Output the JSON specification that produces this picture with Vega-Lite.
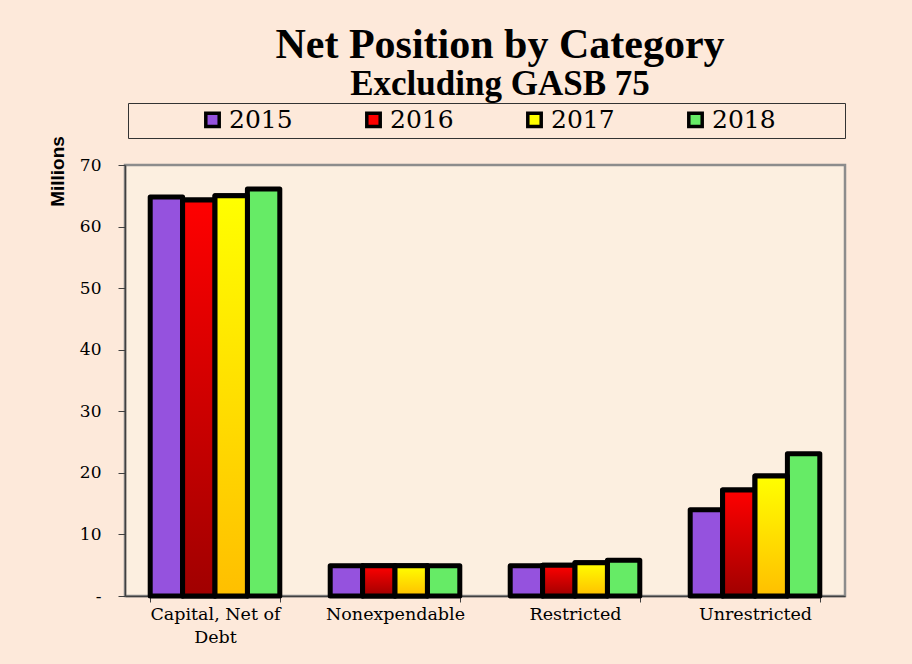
{
  "$schema": "https://vega.github.io/schema/vega-lite/v6.json",
  "width": 720,
  "height": 431,
  "autosize": {"type": "none"},
  "padding": {"left": 125, "top": 165, "right": 67, "bottom": 68},
  "background": "#fde9da",
  "title": {
    "text": "Net Position by Category",
    "subtitle": "Excluding GASB 75",
    "font": "Liberation Serif",
    "fontSize": 42,
    "fontWeight": "bold",
    "color": "#000000",
    "subtitleFont": "Liberation Serif",
    "subtitleFontSize": 35,
    "subtitleFontWeight": "bold",
    "subtitleColor": "#000000",
    "subtitlePadding": 0,
    "anchor": "middle",
    "frame": "group",
    "dx": 15,
    "offset": 0
  },
  "data": {
    "values": [
      {"category": "Capital, Net of Debt", "year": "2015", "value": 64.8},
      {"category": "Capital, Net of Debt", "year": "2016", "value": 64.3},
      {"category": "Capital, Net of Debt", "year": "2017", "value": 65.0},
      {"category": "Capital, Net of Debt", "year": "2018", "value": 66.1},
      {"category": "Nonexpendable", "year": "2015", "value": 4.9},
      {"category": "Nonexpendable", "year": "2016", "value": 4.9},
      {"category": "Nonexpendable", "year": "2017", "value": 4.9},
      {"category": "Nonexpendable", "year": "2018", "value": 4.9},
      {"category": "Restricted", "year": "2015", "value": 4.9},
      {"category": "Restricted", "year": "2016", "value": 5.0},
      {"category": "Restricted", "year": "2017", "value": 5.4},
      {"category": "Restricted", "year": "2018", "value": 5.8},
      {"category": "Unrestricted", "year": "2015", "value": 14.0},
      {"category": "Unrestricted", "year": "2016", "value": 17.2},
      {"category": "Unrestricted", "year": "2017", "value": 19.5},
      {"category": "Unrestricted", "year": "2018", "value": 23.1}
    ]
  },
  "encoding": {
    "x": {
      "field": "category",
      "type": "nominal",
      "sort": null,
      "scale": {"paddingInner": 0.28, "paddingOuter": 0.14},
      "axis": {
        "title": null,
        "labelAngle": 0,
        "labelFont": "DejaVu Serif",
        "labelFontSize": 17.5,
        "labelColor": "#000000",
        "labelPadding": 3,
        "labelLineHeight": 23,
        "labelExpr": "datum.label == 'Capital, Net of Debt' ? ['Capital, Net of', 'Debt'] : datum.label",
        "tickBand": "extent",
        "tickSize": 6,
        "tickColor": "#404040",
        "domainColor": "#404040",
        "domainWidth": 1.5,
        "labelLimit": 0
      }
    },
    "xOffset": {
      "field": "year",
      "type": "nominal",
      "scale": {"domain": ["2015", "2016", "2017", "2018"], "paddingInner": 0, "paddingOuter": 0}
    },
    "y": {
      "field": "value",
      "type": "quantitative",
      "scale": {"domain": [0, 70], "nice": false},
      "axis": {
        "title": "Millions",
        "titleFont": "Liberation Sans",
        "titleFontSize": 19,
        "titleFontWeight": "bold",
        "titleColor": "#000000",
        "titleAngle": -90,
        "titleAlign": "center",
        "titleBaseline": "middle",
        "titleX": -68,
        "titleY": 6,
        "values": [0, 10, 20, 30, 40, 50, 60, 70],
        "labelExpr": "datum.value === 0 ? '-' : datum.label",
        "labelFont": "DejaVu Serif",
        "labelFontSize": 17,
        "labelColor": "#000000",
        "labelPadding": 17,
        "tickSize": 7,
        "tickColor": "#404040",
        "domainColor": "#404040",
        "domainWidth": 1.5,
        "grid": false
      }
    }
  },
  "layer": [
    {
      "mark": {"type": "bar", "stroke": "#000000", "strokeWidth": 5, "strokeJoin": "round"},
      "encoding": {
        "color": {
          "field": "year",
          "type": "nominal",
          "scale": {"domain": ["2015", "2016", "2017", "2018"], "range": ["#9552de", "#ff0000", "#ffff00", "#66eb66"]},
          "legend": {
            "title": " ",
            "titleOrient": "right",
            "titleFontSize": 1,
            "titlePadding": 65,
            "orient": "none",
            "direction": "horizontal",
            "legendX": 3,
            "legendY": -62,
            "columns": 4,
            "padding": 4,
            "fillColor": "#fde9da",
            "strokeColor": "#333333",
            "symbolType": "square",
            "symbolSize": 180,
            "symbolStrokeColor": "#000000",
            "symbolStrokeWidth": 3.5,
            "symbolOpacity": 1,
            "labelFont": "DejaVu Serif",
            "labelFontSize": 25,
            "labelColor": "#000000",
            "labelOffset": 4,
            "columnPadding": 0,
            "symbolOffset": 68
          }
        }
      }
    },
    {
      "transform": [{"filter": "datum.year == '2016'"}],
      "mark": {
        "type": "bar",
        "stroke": "#000000",
        "strokeWidth": 5,
        "strokeJoin": "round",
        "color": {"gradient": "linear", "x1": 0, "y1": 0, "x2": 0, "y2": 1, "stops": [{"offset": 0, "color": "#ff0000"}, {"offset": 1, "color": "#a00000"}]}
      }
    },
    {
      "transform": [{"filter": "datum.year == '2017'"}],
      "mark": {
        "type": "bar",
        "stroke": "#000000",
        "strokeWidth": 5,
        "strokeJoin": "round",
        "color": {"gradient": "linear", "x1": 0, "y1": 0, "x2": 0, "y2": 1, "stops": [{"offset": 0, "color": "#ffff00"}, {"offset": 1, "color": "#ffbf00"}]}
      }
    }
  ],
  "config": {
    "view": {"fill": "#fcefe0", "stroke": "#8c8c8c", "strokeWidth": 2.5}
  }
}
